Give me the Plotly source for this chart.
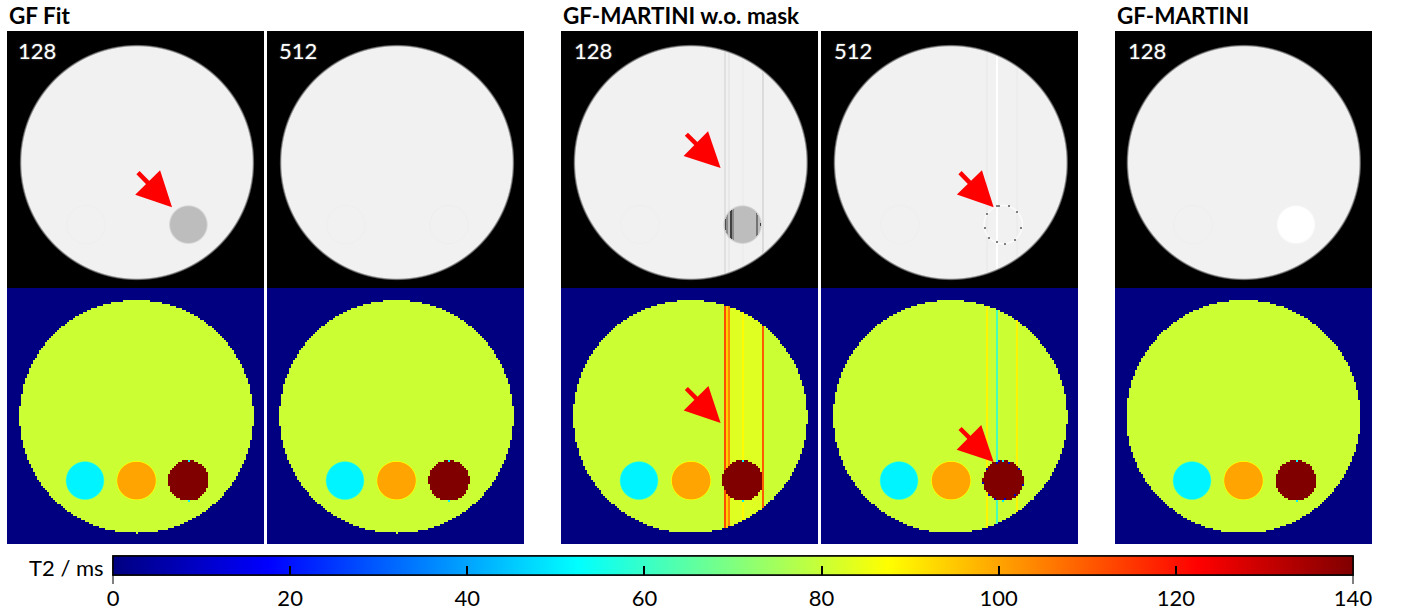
import numpy as np
import plotly.graph_objects as go

W, H = 1403, 612

# ---- data ----
group_titles = ["GF Fit", "GF-MARTINI w.o. mask", "GF-MARTINI"]
panel_labels = ["128", "512", "128", "512", "128"]
tick_values = [0, 20, 40, 60, 80, 100, 120, 140]
inner_tick_values = [20, 40, 60, 80, 100, 120]
end_tick_values = [0, 140]
t2_min, t2_max = 0, 140
t2_background = 0
t2_main = 80.5
t2_insert_values = [51, 100, 140]
signal_main = 0.945
signal_hot_insert = [0.74, 0.945, 0.74, 0.945, 1.0]
signal_faint_ring = 0.935
main_center_x = [64.5, 64.5, 64.4, 64.4, 63.9]
insert_cx = [[39, 64.5, 90.2], [39, 64.5, 90.5], [39, 64.8, 90.3], [39, 64.8, 90.6], [38.5, 64, 90]]
insert_r = [9.5, 9.5, 10.2]
t2_stripe_cols = {2: [81, 82, 83, 90, 100], 3: [82, 87, 97]}
t2_stripe_vals = {2: [112, 94, 104, 88, 110], 3: [89, 62, 89]}
t2_band = {2: (84, 100, 83.0)}
sig_stripe_cols = {2: [81, 83, 90, 100], 3: [82, 87, 97]}
sig_stripe_vals = {2: [0.88, 0.91, 0.93, 0.86], 3: [0.925, 1.0, 0.93]}
sig_insert_bar_cols = [81, 82, 84, 85, 97, 99]
sig_insert_bar_vals = [0.30, 0.55, 0.25, 0.55, 0.45, 0.25]
ring_angles = [-100, -72, -40, 12, 50, 86, 112, 134, 172, 215, 250]
ring_t2 = 10
rim_angles = [-90, 90]
rim_t2 = 51

# panel geometry in page pixels
panel_left = [7, 267, 561, 821, 1115]
label_offset = [9, 10, 11, 11, 11]
panel_size = 257
row_top = [31, 288]
row_h = [258, 256]
main_cy = [65, 64.3]
main_r = 58.2
insert_cy = [95.8, 96.3]
N = 128
F = 2  # samples per image cell

fine = (np.arange(N * F) + 0.5) / F
X, Y = np.meshgrid(fine, fine)
XC, YC = np.floor(X) + 0.5, np.floor(Y) + 0.5


def blocky(cx, cy, r):
    return (XC - cx) ** 2 + (YC - cy) ** 2 <= r ** 2


def soft(cx, cy, r, w=1.0):
    d = np.hypot(X - cx, Y - cy)
    return np.clip((r - d) / w + 0.5, 0, 1)


def set_col(z, c, v, mask):
    for k in range(F):
        column = c * F + k
        z[:, column][mask[:, column]] = v


def t2_map(p):
    z = np.full(X.shape, float(t2_background))
    m = blocky(main_center_x[p], main_cy[1], main_r)
    z[m] = t2_main
    if p in t2_band:
        a, b, v = t2_band[p]
        for c in range(a, b):
            set_col(z, c, v, m)
    for c, v in zip(t2_stripe_cols.get(p, []), t2_stripe_vals.get(p, [])):
        set_col(z, c, v, m)
    for cx, r, v in zip(insert_cx[p][:2], insert_r[:2], t2_insert_values[:2]):
        a = soft(cx, insert_cy[1], r, 0.7)
        z = z * (1 - a) + v * a
    cx = insert_cx[p][2]
    z[blocky(cx, insert_cy[1], insert_r[2])] = t2_insert_values[2]

    def dot(angle, value):
        ix = int(cx + (insert_r[2] - 0.5) * np.cos(np.radians(angle)))
        iy = int(insert_cy[1] + (insert_r[2] - 0.5) * np.sin(np.radians(angle)))
        z[iy * F:(iy + 1) * F, ix * F:(ix + 1) * F] = value

    for a in rim_angles:
        dot(a, rim_t2)
    if p == 3:
        for a in ring_angles:
            dot(a, ring_t2)
    return z.astype("float32")


def signal_map(p):
    z = np.zeros(X.shape)
    m = soft(main_center_x[p], main_cy[0], main_r, 1.2)
    inside = m > 0.99
    z[:] = signal_main * m
    for c, v in zip(sig_stripe_cols.get(p, []), sig_stripe_vals.get(p, [])):
        set_col(z, c, v, inside)
    cx0 = insert_cx[p][0]
    ring = soft(cx0, insert_cy[0], 9.9, 0.5) * (1 - soft(cx0, insert_cy[0], 9.3, 0.5))
    z = z * (1 - ring) + signal_faint_ring * ring
    cx = insert_cx[p][2]
    if p in (1, 3):
        ring = soft(cx, insert_cy[0], 9.9, 0.5) * (1 - soft(cx, insert_cy[0], 9.2, 0.5))
        z = z * (1 - ring) + (signal_faint_ring if p == 1 else 0.985) * ring
    a = soft(cx, insert_cy[0], 9.4, 1.0)
    if p not in (1, 3):
        z = z * (1 - a) + signal_hot_insert[p] * a
    if p == 2:
        d = a > 0.9
        for c, v in zip(sig_insert_bar_cols, sig_insert_bar_vals):
            set_col(z, c, v, d)
    if p == 3:
        for ang in ring_angles:
            ix = int(cx + 9.6 * np.cos(np.radians(ang)))
            iy = int(insert_cy[0] + 9.6 * np.sin(np.radians(ang)))
            z[iy * F:iy * F + 2, ix * F:ix * F + 2] = 0.5
    return z.astype("float32")


JET = [[0, "#000080"], [0.125, "#0000ff"], [0.375, "#00ffff"], [0.625, "#ffff00"], [0.875, "#ff0000"], [1, "#800000"]]
BAR_LEFT, BAR_LEN, BAR_TOP, BAR_THICK = 113, 1240, 556, 19
LABEL_FONT = dict(family="Lato", size=22, color="#000000")
bar_base = dict(
    orientation="h", lenmode="pixels", len=BAR_LEN, thicknessmode="pixels", thickness=BAR_THICK,
    x=BAR_LEFT / W, xanchor="left", y=1 - BAR_TOP / H, yanchor="top", xpad=0, ypad=0,
    outlinecolor="#000000", outlinewidth=1.5, tickmode="array",
)

fig = go.Figure()
layout = dict(
    width=W, height=H, margin=dict(l=0, r=0, t=0, b=0, autoexpand=False),
    paper_bgcolor="white", plot_bgcolor="white", showlegend=False,
    coloraxis=dict(colorscale=[[0, "#000000"], [1, "#ffffff"]], cmin=0, cmax=1, showscale=False),
    # the labelled bar; its ticks are clear and only hold the labels away from the bar
    coloraxis2=dict(
        colorscale=JET, cmin=t2_min, cmax=t2_max, showscale=True,
        colorbar=dict(bar_base, ticks="outside", ticklen=4, tickcolor="rgba(0,0,0,0)",
                      tickvals=tick_values, ticktext=[str(v) for v in tick_values], tickfont=LABEL_FONT),
    ),
    # the same bar again on top, carrying the inward ticks
    coloraxis3=dict(
        colorscale=JET, cmin=t2_min, cmax=t2_max, showscale=True,
        colorbar=dict(bar_base, ticks="inside", ticklen=9, tickcolor="#000000", tickwidth=1.5,
                      tickvals=inner_tick_values, showticklabels=False),
    ),
)

annotations, shapes = [], []
idx = 0
for row in range(2):
    for p in range(5):
        idx += 1
        sfx = "" if idx == 1 else str(idx)
        fig.add_trace(go.Heatmap(
            z=signal_map(p) if row == 0 else t2_map(p),
            x=fine, y=fine,
            coloraxis="coloraxis" if row == 0 else ("coloraxis3" if p == 4 else "coloraxis2"),
            zsmooth="best" if row == 0 else False,
            xaxis="x" + sfx, yaxis="y" + sfx, hoverinfo="skip",
        ))
        layout["xaxis" + sfx] = dict(
            domain=[panel_left[p] / W, (panel_left[p] + panel_size) / W],
            range=[0, N], visible=False, fixedrange=True, anchor="y" + sfx)
        layout["yaxis" + sfx] = dict(
            domain=[1 - (row_top[row] + row_h[row]) / H, 1 - row_top[row] / H],
            range=[N, 0], visible=False, fixedrange=True, anchor="x" + sfx)

# panel labels
for p, lab in enumerate(panel_labels):
    annotations.append(dict(
        text=lab, xref="paper", yref="paper", x=(panel_left[p] + label_offset[p]) / W, y=1 - 50 / H,
        xanchor="left", yanchor="middle", showarrow=False,
        font=dict(family="Lato", size=22, color="#ffffff", shadow="0 0 2px #777"),
    ))

# group titles
for t, left in zip(group_titles, [7, 561, 1115]):
    annotations.append(dict(
        text="<b>%s</b>" % t, xref="paper", yref="paper", x=left / W, y=1 - 15 / H,
        xanchor="left", yanchor="middle", showarrow=False,
        font=dict(family="Lato", size=22.5, color="#000000"),
    ))

annotations.append(dict(
    text="T2 / ms", xref="paper", yref="paper", x=106 / W, y=1 - 567 / H,
    xanchor="right", yanchor="middle", showarrow=False, font=LABEL_FONT,
))

# arrows in image cells
arrow_panel = [0, 2, 3, 2, 3]
arrow_row = [0, 0, 0, 1, 1]
arrow_tip = [(82.2, 87.5), (79.5, 68), (86, 87.5), (79.5, 67.5), (86, 87)]
arrow_tail = [(64.5, 69.5), (61.7, 50.5), (68.5, 69.5), (61.7, 49.5), (68.5, 69.5)]
for p, r, tip, tail in zip(arrow_panel, arrow_row, arrow_tip, arrow_tail):
    i = r * 5 + p + 1
    sfx = "" if i == 1 else str(i)
    annotations.append(dict(
        x=tip[0], y=tip[1], ax=tail[0], ay=tail[1], xref="x" + sfx, yref="y" + sfx,
        axref="x" + sfx, ayref="y" + sfx, text="", showarrow=True,
        arrowhead=2, arrowsize=1.55, arrowwidth=4.5, arrowcolor="#ff0000",
    ))

# the two end ticks of the colour bar hang below it
for v in end_tick_values:
    px = BAR_LEFT + BAR_LEN * (v - t2_min) / (t2_max - t2_min)
    shapes.append(dict(type="line", xref="paper", yref="paper", x0=px / W, x1=px / W,
                       y0=1 - 575 / H, y1=1 - 584 / H, line=dict(color="#000000", width=1)))

layout["annotations"] = annotations
layout["shapes"] = shapes
fig.update_layout(**layout)
fig.write_html("out.html", config={"displayModeBar": False},
               post_script="document.body.style.margin='0';")
